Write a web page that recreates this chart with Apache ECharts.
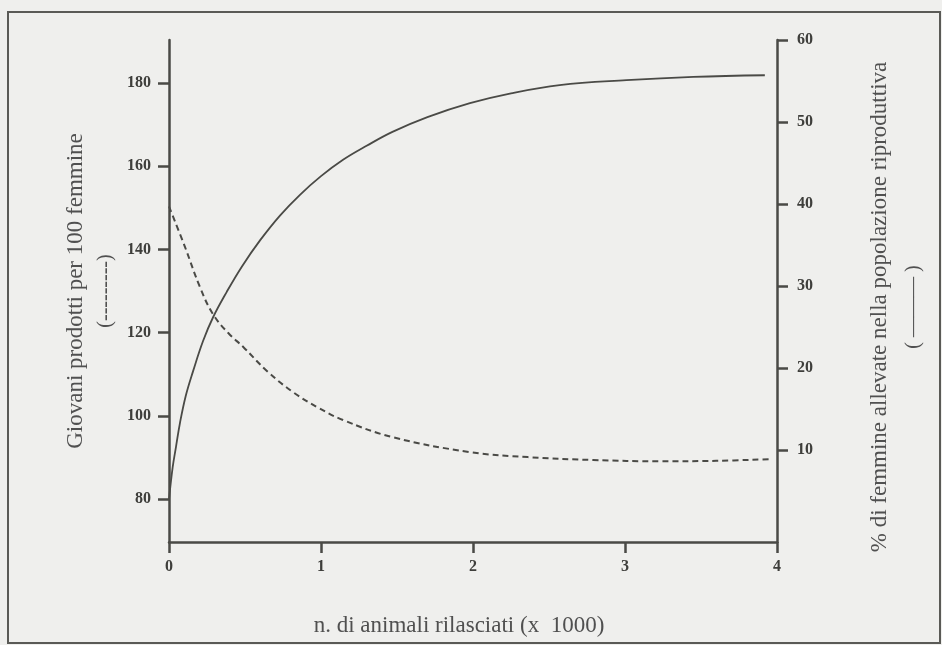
<!DOCTYPE html>
<html>
<head>
<meta charset="utf-8">
<script src="https://cdn.jsdelivr.net/npm/echarts@6.0.0/dist/echarts.min.js"></script>
<style>
html,body{margin:0;padding:0;background:#efefed;}
#chart{width:942px;height:645px;}
</style>
</head>
<body>
<div id="chart"></div>
<script>
// ---- data ----
const xTicks = [0, 1, 2, 3, 4];
const leftTicks = [80, 100, 120, 140, 160, 180];
const rightTicks = [10, 20, 30, 40, 50, 60];

// % di femmine allevate nella popolazione riproduttiva (right axis, solid line)
const solidX = [0, 0.024, 0.046, 0.072, 0.11, 0.158, 0.224, 0.29, 0.38, 0.48, 0.6, 0.73, 0.86, 1.0, 1.145, 1.3, 1.47, 1.7, 1.98, 2.25, 2.57, 3.01, 3.45, 3.92];
const solidY = [4.0, 7.9, 10.4, 13.3, 16.6, 19.6, 23.3, 26.2, 29.3, 32.4, 35.6, 38.6, 41.1, 43.4, 45.4, 47.1, 48.8, 50.6, 52.3, 53.5, 54.5, 55.1, 55.5, 55.7];

// Giovani prodotti per 100 femmine (left axis, dashed line)
const dashX = [0, 0.105, 0.204, 0.29, 0.39, 0.49, 0.65, 0.82, 0.98, 1.145, 1.47, 1.98, 2.36, 2.79, 3.23, 3.6, 3.95];
const dashY = [150.3, 140.6, 130.9, 124.4, 119.9, 116.5, 110.6, 105.6, 102.0, 99.0, 94.9, 91.3, 90.1, 89.4, 89.1, 89.2, 89.6];

const xTitle = 'n. di animali rilasciati (x  1000)';
const leftTitle = 'Giovani prodotti per 100 femmine';
const leftKey = '(---------)';
const rightTitle = '% di femmine allevate nella popolazione riproduttiva';
const rightKey = '( ——— )';

// ---- chart ----
const ink = '#4a4a46';
const serif = '"Liberation Serif", "DejaVu Serif", serif';
const tickLabel = { fontFamily: serif, fontWeight: 'bold', fontSize: 16, color: '#3e3e3b' };

const chart = echarts.init(document.getElementById('chart'), null, { renderer: 'canvas' });
chart.setOption({
  backgroundColor: '#efefed',
  animation: false,
  graphic: [{
    type: 'rect', silent: true, z: -10,
    shape: { x: 8, y: 12, width: 932, height: 631 },
    style: { fill: 'none', stroke: '#5a5a56', lineWidth: 2 }
  }],
  grid: { left: 169, right: 165, top: 40, bottom: 103, containLabel: false, outerBoundsMode: 'none' },
  xAxis: {
    type: 'value', min: xTicks[0], max: xTicks[xTicks.length - 1], interval: 1,
    axisLine: { show: true, onZero: false, lineStyle: { color: ink, width: 2.5 } },
    axisTick: { show: true, length: 11, lineStyle: { color: ink, width: 2.5 } },
    axisLabel: Object.assign({ margin: 17, formatter: v => String(v) }, tickLabel),
    splitLine: { show: false },
    name: xTitle, nameLocation: 'middle', nameGap: 72,
    nameTextStyle: { fontFamily: serif, fontSize: 23, color: '#505050', padding: [0, 28, 0, 0] }
  },
  yAxis: [{
    type: 'value', position: 'left', min: 69.7, max: 190.3,
    axisLine: { show: true, onZero: false, lineStyle: { color: ink, width: 2.5 } },
    axisTick: { show: true, length: 11, customValues: leftTicks, lineStyle: { color: ink, width: 2.5 } },
    axisLabel: Object.assign({ margin: 18, customValues: leftTicks }, tickLabel),
    splitLine: { show: false },
    name: '{t|' + leftTitle + '}\n{b|' + leftKey + '}',
    nameLocation: 'middle', nameRotate: 90, nameGap: 48,
    nameTextStyle: {
      rich: {
        t: { fontFamily: serif, fontSize: 23, color: '#505050', lineHeight: 30 },
        b: { fontFamily: serif, fontSize: 20, color: '#505050', lineHeight: 30 }
      }
    }
  }, {
    type: 'value', position: 'right', min: -1.2, max: 60,
    axisLine: { show: true, onZero: false, lineStyle: { color: ink, width: 2.5 } },
    axisTick: { show: true, length: 11, customValues: rightTicks, lineStyle: { color: ink, width: 2.5 } },
    axisLabel: Object.assign({ margin: 20, customValues: rightTicks }, tickLabel),
    splitLine: { show: false },
    name: '{t|' + rightTitle + '}\n{b|' + rightKey + '}',
    nameLocation: 'middle', nameRotate: 90, nameGap: 86,
    nameTextStyle: {
      padding: [0, 32, 0, 0],
      rich: {
        t: { fontFamily: serif, fontSize: 23, color: '#505050', lineHeight: 34 },
        b: { fontFamily: serif, fontSize: 20, color: '#505050', lineHeight: 34 }
      }
    }
  }],
  series: [{
    name: rightTitle, type: 'line', yAxisIndex: 1,
    data: solidX.map((x, i) => [x, solidY[i]]),
    smooth: 0.4, showSymbol: false,
    lineStyle: { color: ink, width: 1.8 }
  }, {
    name: leftTitle, type: 'line', yAxisIndex: 0,
    data: dashX.map((x, i) => [x, dashY[i]]),
    smooth: 0.4, showSymbol: false,
    lineStyle: { color: ink, width: 2, type: [6, 4] }
  }]
});
</script>
</body>
</html>
